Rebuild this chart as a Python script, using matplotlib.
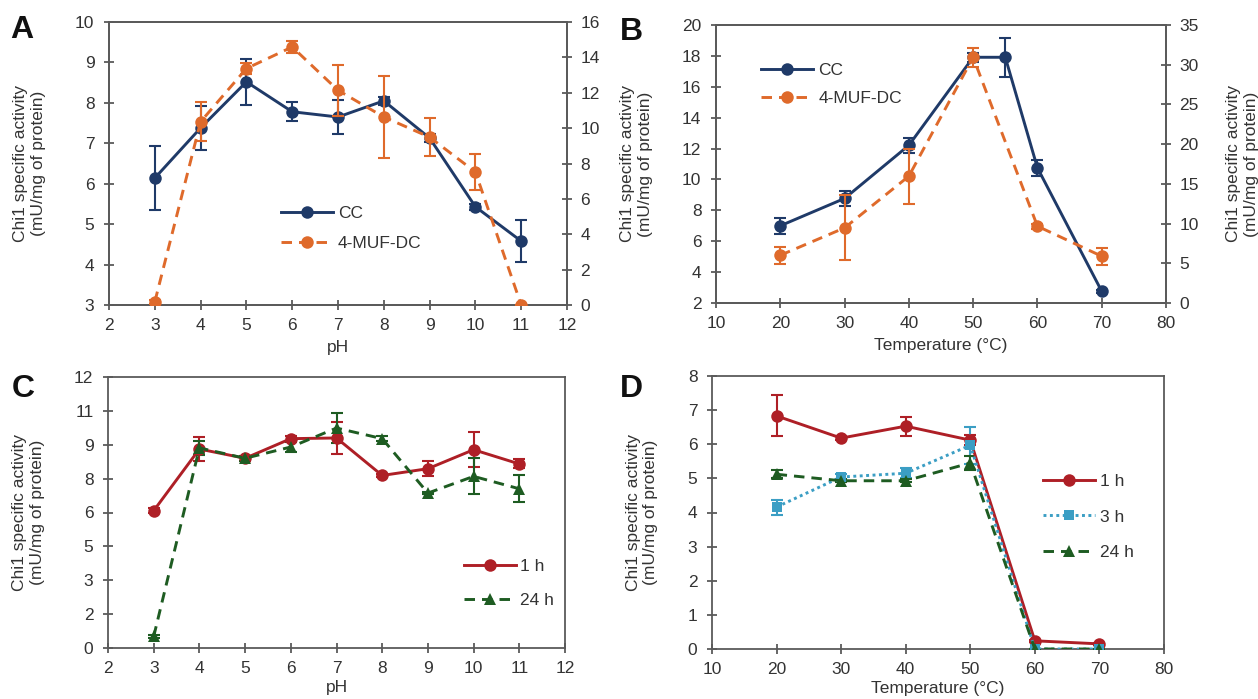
import matplotlib
matplotlib.use("Agg")
import matplotlib.pyplot as plt
from matplotlib.lines import Line2D

plt.rcParams['font.family'] = ['Liberation Sans', 'DejaVu Sans']

# ---------------- data ----------------
# Panel A (pH, CC on left axis, 4-MUF-DC on right axis)
ph = [3, 4, 5, 6, 7, 8, 9, 10, 11]
a_cc = [6.14, 7.38, 8.52, 7.78, 7.65, 8.05, 7.13, 5.43, 4.58]
a_cc_err = [0.80, 0.55, 0.57, 0.23, 0.41, 0.10, 0.10, 0.08, 0.52]
a_muf = [0.18, 10.36, 13.37, 14.59, 12.14, 10.63, 9.49, 7.52, 0.0]
a_muf_err = [0.10, 1.10, 0.30, 0.35, 1.45, 2.30, 1.06, 1.00, 0.0]

# Panel B (temperature)
b_cc_t = [20, 30, 40, 50, 55, 60, 70]
b_cc = [7.00, 8.77, 12.21, 17.91, 17.91, 10.75, 2.76]
b_cc_err = [0.50, 0.50, 0.50, 0.30, 1.27, 0.50, 0.10]
b_muf_t = [20, 30, 40, 50, 60, 70]
b_muf = [6.01, 9.46, 15.97, 30.93, 9.67, 5.89]
b_muf_err = [1.05, 4.10, 3.45, 1.20, 0.30, 1.05]

# Panel C (pH stability)
c_1h = [6.08, 8.81, 8.40, 9.27, 9.30, 7.64, 7.94, 8.78, 8.15]
c_1h_err = [0.12, 0.55, 0.10, 0.10, 0.72, 0.05, 0.33, 0.78, 0.20]
c_24h = [0.51, 8.86, 8.40, 8.90, 9.74, 9.27, 6.86, 7.60, 7.05]
c_24h_err = [0.05, 0.30, 0.10, 0.22, 0.66, 0.10, 0.05, 0.80, 0.60]
c_yticks = [0, 1.5, 3, 4.5, 6, 7.5, 9, 10.5, 12]
c_yticklabels = ['0', '2', '3', '5', '6', '8', '9', '11', '12']

# Panel D (thermal stability)
temp = [20, 30, 40, 50, 60, 70]
d_1h = [6.83, 6.18, 6.53, 6.12, 0.24, 0.15]
d_1h_err = [0.60, 0.05, 0.28, 0.15, 0.03, 0.03]
d_3h = [4.16, 5.04, 5.15, 5.97, 0.0, 0.0]
d_3h_err = [0.22, 0.08, 0.15, 0.55, 0.0, 0.0]
d_24h = [5.12, 4.93, 4.93, 5.45, 0.0, 0.0]
d_24h_err = [0.12, 0.05, 0.05, 0.20, 0.0, 0.0]

# ---------------- style ----------------
NAVY = '#1f3a68'
ORANGE = '#df6a2b'
RED = '#ae1f26'
GREEN = '#1e5c22'
TEAL = '#3b9ec4'
SPINE = '#5a5a5a'
TXT = '#333333'
FS = 12.5
YLAB = 'Chi1 specific activity\n(mU/mg of protein)'

W, H = 1258, 699
fig = plt.figure(figsize=(W / 100, H / 100), dpi=100)


def make_axes(x0, x1, ytop, ybot):
    return fig.add_axes([x0 / W, 1 - ybot / H, (x1 - x0) / W, (ybot - ytop) / H])


def style(ax):
    for s in ax.spines.values():
        s.set_color(SPINE)
        s.set_linewidth(1.3)
    ax.tick_params(axis='both', direction='inout', length=7, width=1.3,
                   color=SPINE, labelcolor=TXT, labelsize=FS)
    ax.tick_params(axis='x', pad=6)
    ax.tick_params(axis='y', pad=7)
    ax.tick_params(top=False, right=False)


def series(ax, x, y, e, color, ls, marker, ms, lw=2.1):
    ax.errorbar(x, y, yerr=e, fmt='none', ecolor=color, elinewidth=1.5,
                capsize=4, capthick=1.5, zorder=3)
    ax.plot(x, y, color=color, linestyle=ls, linewidth=lw,
            marker=marker, markersize=ms, markeredgewidth=0, zorder=4)
    return Line2D([], [], color=color, linestyle=ls, linewidth=lw,
                  marker=marker, markersize=ms, markeredgewidth=0)


DASH = (0, (3.6, 2.4))
DOT = (0, (1, 1.2))
MS = 9

# ---------------- Panel A ----------------
axA = make_axes(109, 567, 22, 305)
style(axA)
hA1 = series(axA, ph, a_cc, a_cc_err, NAVY, '-', 'o', MS)
axA.set_xlim(2, 12)
axA.set_xticks(range(2, 13))
axA.set_ylim(3, 10)
axA.set_yticks(range(3, 11))
axA.set_ylabel(YLAB, fontsize=FS, color=TXT, labelpad=21)
axA.set_xlabel('pH', fontsize=FS, color=TXT, labelpad=5)
axA2 = axA.twinx()
style(axA2)
axA2.tick_params(right=True, left=False, pad=6)
hA2 = series(axA2, ph, a_muf, a_muf_err, ORANGE, DASH, 'o', MS)
axA2.set_ylim(0, 16)
axA2.set_yticks(range(0, 17, 2))
axA2.legend([hA1, hA2], ['CC', '4-MUF-DC'], loc='upper left',
            bbox_to_anchor=(0.375, 0.35), frameon=False, fontsize=FS,
            handlelength=3.0, handletextpad=0.3, labelspacing=0.85,
            borderpad=0, borderaxespad=0, labelcolor=TXT)

# ---------------- Panel B ----------------
axB = make_axes(716, 1166, 25, 303)
style(axB)
hB1 = series(axB, b_cc_t, b_cc, b_cc_err, NAVY, '-', 'o', MS)
axB.set_xlim(10, 80)
axB.set_xticks(range(10, 81, 10))
axB.set_ylim(2, 20)
axB.set_yticks(range(2, 21, 2))
axB.set_ylabel(YLAB, fontsize=FS, color=TXT, labelpad=21)
axB.set_xlabel('Temperature (°C)', fontsize=FS, color=TXT, labelpad=5)
axB2 = axB.twinx()
style(axB2)
axB2.tick_params(right=True, left=False, pad=6)
hB2 = series(axB2, b_muf_t, b_muf, b_muf_err, ORANGE, DASH, 'o', MS)
axB2.set_ylim(0, 35)
axB2.set_yticks(range(0, 36, 5))
axB2.set_ylabel(YLAB, fontsize=FS, color=TXT, labelpad=20)
axB2.legend([hB1, hB2], ['CC', '4-MUF-DC'], loc='upper left',
            bbox_to_anchor=(0.1, 0.865), frameon=False, fontsize=FS,
            handlelength=3.0, handletextpad=0.3, labelspacing=0.75,
            borderpad=0, borderaxespad=0, labelcolor=TXT)

# ---------------- Panel C ----------------
axC = make_axes(108, 565, 377, 648)
style(axC)
hC1 = series(axC, ph, c_1h, c_1h_err, RED, '-', 'o', MS)
hC2 = series(axC, ph, c_24h, c_24h_err, GREEN, DASH, '^', 8.5)
axC.set_xlim(2, 12)
axC.set_xticks(range(2, 13))
axC.set_ylim(0, 12)
axC.set_yticks(c_yticks)
axC.set_yticklabels(c_yticklabels)
axC.set_ylabel(YLAB, fontsize=FS, color=TXT, labelpad=21)
axC.set_xlabel('pH', fontsize=FS, color=TXT, labelpad=3)
axC.legend([hC1, hC2], ['1 h', '24 h'], loc='upper left',
           bbox_to_anchor=(0.778, 0.33), frameon=False, fontsize=FS,
           handlelength=3.0, handletextpad=0.25, labelspacing=1.1,
           borderpad=0, borderaxespad=0, labelcolor=TXT)

# ---------------- Panel D ----------------
axD = make_axes(712, 1164, 376, 649)
style(axD)
hD1 = series(axD, temp, d_1h, d_1h_err, RED, '-', 'o', MS)
hD2 = series(axD, temp, d_3h, d_3h_err, TEAL, DOT, 's', 7.5)
hD3 = series(axD, temp, d_24h, d_24h_err, GREEN, DASH, '^', 8.5)
axD.set_xlim(10, 80)
axD.set_xticks(range(10, 81, 10))
axD.set_ylim(0, 8)
axD.set_yticks(range(0, 9))
axD.set_ylabel(YLAB, fontsize=FS, color=TXT, labelpad=21)
axD.set_xlabel('Temperature (°C)', fontsize=FS, color=TXT, labelpad=3)
axD.legend([hD1, hD2, hD3], ['1 h', '3 h', '24 h'], loc='upper left',
           bbox_to_anchor=(0.733, 0.64), frameon=False, fontsize=FS,
           handlelength=3.0, handletextpad=0.25, labelspacing=1.15,
           borderpad=0, borderaxespad=0, labelcolor=TXT)

# ---------------- panel letters ----------------
for letter, x, y in [('A', 10, 15), ('B', 620, 17), ('C', 12, 374), ('D', 620, 374)]:
    fig.text(x / W, 1 - y / H, letter, fontsize=23, fontweight='bold',
             color='#111111', ha='left', va='top')

fig.savefig('out.png', dpi=100)
